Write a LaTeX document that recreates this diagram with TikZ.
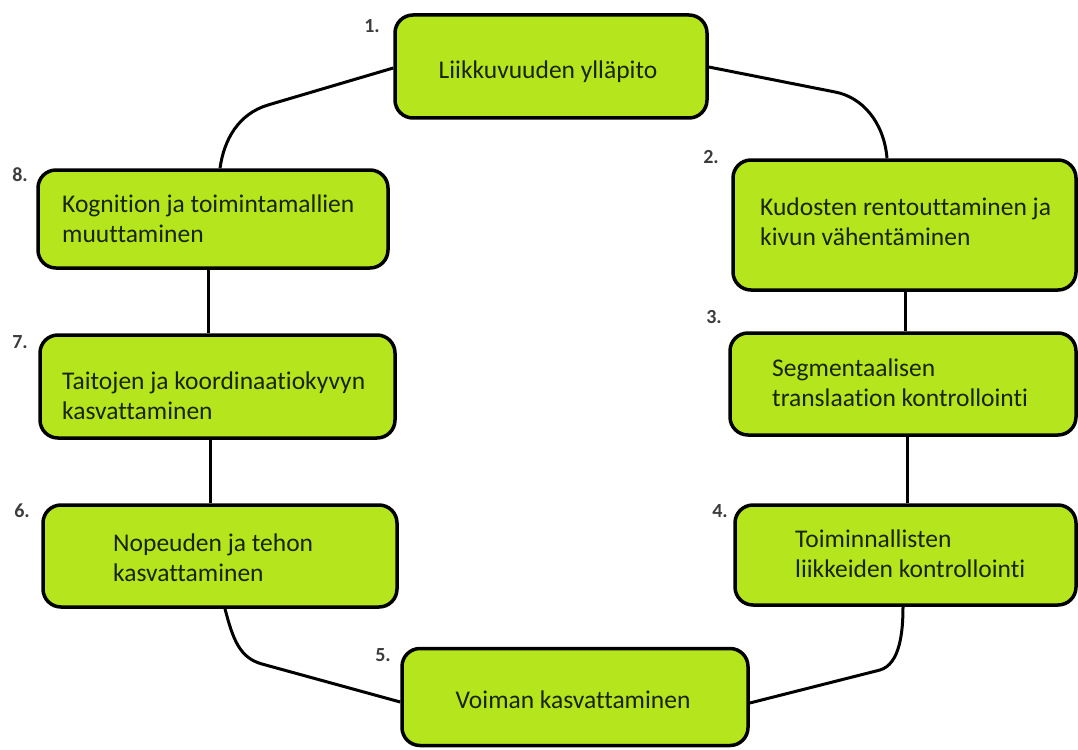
\documentclass[tikz,border=0pt]{standalone}
\usepackage{fontspec}
\setmainfont{Carlito}[Ligatures=NoCommon]
\usetikzlibrary{backgrounds}
\definecolor{boxfill}{RGB}{181,230,29}
\definecolor{boxtext}{RGB}{24,36,6}
\definecolor{numtext}{RGB}{60,60,60}
\begin{document}
\begin{tikzpicture}[x=1pt,y=-1pt,
  stepbox/.style={draw=black,line width=3.5pt,fill=boxfill,rounded corners=18pt,
    inner sep=0pt,minimum width=#1},
  boxlabel/.style={text=boxtext,font=\fontsize{25.5}{30}\selectfont,align=left,inner sep=0pt},
  numlabel/.style={text=numtext,font=\fontsize{20}{22}\selectfont\bfseries,inner sep=0pt},
  link/.style={line width=3pt,draw=black}]
\useasboundingbox (0,0) rectangle (1078,749);

% boxes
\node[stepbox=312pt,minimum height=103pt] (b1) at (551,66.5) {};
\node[stepbox=343pt,minimum height=130pt] (b2) at (904.5,225) {};
\node[stepbox=346pt,minimum height=102pt] (b3) at (903,384) {};
\node[stepbox=341pt,minimum height=100pt] (b4) at (905.5,555) {};
\node[stepbox=346pt,minimum height=97pt] (b5) at (575,697) {};
\node[stepbox=354pt,minimum height=102pt] (b6) at (220,556) {};
\node[stepbox=355pt,minimum height=103pt] (b7) at (217.5,386.5) {};
\node[stepbox=350pt,minimum height=98pt] (b8) at (213,219) {};

% connector end points
\coordinate (x18) at (220,0);
\coordinate (x12) at (887,0);
\coordinate (x23) at (905,0);
\coordinate (x34) at (907,0);
\coordinate (x87) at (208,0);
\coordinate (x76) at (210,0);
\coordinate (x65) at (225,0);
\coordinate (x54) at (903,0);
\coordinate (y1l) at (0,68);
\coordinate (y1r) at (0,67);
\coordinate (y5l) at (0,702);
\coordinate (y5r) at (0,703);
\coordinate (k18) at (268,105);
\coordinate (k12) at (835,92);
\coordinate (k65) at (262,664);
\coordinate (k54) at (880,670);

\begin{scope}[on background layer]
\draw[link] (b1.west |- y1l) -- (k18) .. controls (238,114) and (224,140) .. (b8.north -| x18);
\draw[link] (b1.east |- y1r) -- (k12) .. controls (862,97) and (884,122) .. (b2.north -| x12);
\draw[link] (b2.south -| x23) -- (b3.north -| x23);
\draw[link] (b3.south -| x34) -- (b4.north -| x34);
\draw[link] (b8.south -| x87) -- (b7.north -| x87);
\draw[link] (b7.south -| x76) -- (b6.north -| x76);
\draw[link] (b6.south -| x65) .. controls (233,640) and (240,658) .. (k65) -- (b5.west |- y5l);
\draw[link] (b5.east |- y5r) -- (k54) .. controls (900,664) and (903,632) .. (b4.south -| x54);
\end{scope}

% texts
\node[boxlabel] (t1) at (548,72) {Liikkuvuuden ylläpito};
\node[boxlabel,anchor=west] (t2) at (760,222) {Kudosten rentouttaminen ja\\kivun vähentäminen};
\node[boxlabel,anchor=west] (t3) at (772,383) {Segmentaalisen\\translaation kontrollointi};
\node[boxlabel,anchor=west] (t4) at (795,554) {Toiminnallisten\\liikkeiden kontrollointi};
\node[boxlabel] (t5) at (573,700) {Voiman kasvattaminen};
\node[boxlabel,anchor=west] (t6) at (113,558) {Nopeuden ja tehon\\kasvattaminen};
\node[boxlabel,anchor=west] (t7) at (62,396) {Taitojen ja koordinaatiokyvyn\\kasvattaminen};
\node[boxlabel,anchor=west] (t8) at (62,219) {Kognition ja toimintamallien\\muuttaminen};

% numbers
\node[numlabel] (n1) at (372,26) {1.};
\node[numlabel] (n2) at (711,157) {2.};
\node[numlabel] (n3) at (714,317) {3.};
\node[numlabel] (n4) at (720,511) {4.};
\node[numlabel] (n5) at (383,655) {5.};
\node[numlabel] (n6) at (22,511) {6.};
\node[numlabel] (n7) at (20,342) {7.};
\node[numlabel] (n8) at (20,175) {8.};
\end{tikzpicture}
\end{document}
